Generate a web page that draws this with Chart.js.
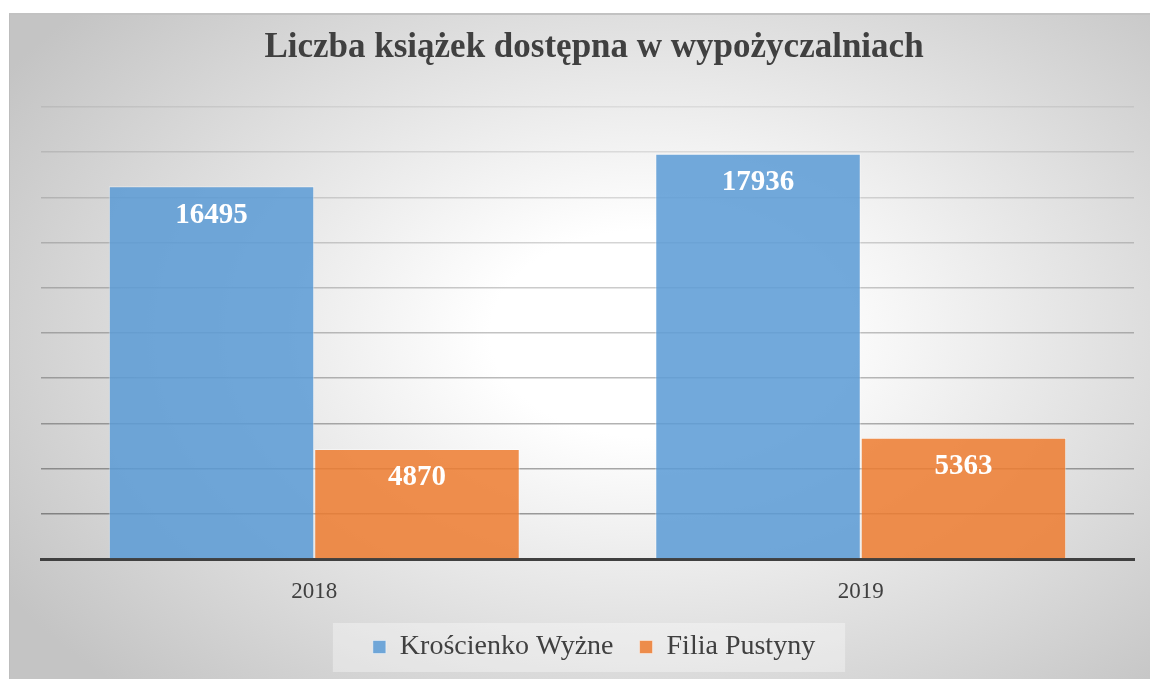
<!DOCTYPE html>
<html lang="pl">
<head>
<meta charset="utf-8">
<title>Liczba książek dostępna w wypożyczalniach</title>
<script src="https://cdn.jsdelivr.net/npm/chart.js@4.4.1/dist/chart.umd.min.js"></script>
<style>
    html, body { margin: 0; padding: 0; background: #ffffff; overflow: hidden; }
    #chart-box {
        position: absolute;
        left: 9px;
        top: 13px;
        width: 1141px;
        height: 666px;
        box-sizing: border-box;
        border-left: 1px solid #bdbdbd;
        border-top: 2px solid #c2c2c2;
        background: radial-gradient(ellipse 720px 470px at 56% 48%, #ffffff 0%, #ffffff 22%, #c4c4c4 105%);
    }
    #chart-box canvas { position: absolute; left: 0; top: 0; }
</style>
</head>
<body>
<div id="chart-box">
    <canvas id="books-chart" width="1141" height="666"></canvas>
</div>
<script>
// --- DATA ---
const years = ['2018', '2019'];
const kroscienkoValues = [16495, 17936];
const pustynyValues = [4870, 5363];
const seriesNames = ['Krościenko Wyżne', 'Filia Pustyny'];

const FONT = "'Liberation Serif', 'Times New Roman', serif";
const TEXT_COLOR = '#404040';

// --- PLUGINS ---

// Value labels inside the top of each bar (white, bold)
const barValueLabels = {
    id: 'barValueLabels',
    afterDatasetsDraw(chart) {
        const ctx = chart.ctx;
        ctx.save();
        ctx.font = `bold 29px ${FONT}`;
        ctx.fillStyle = '#ffffff';
        ctx.textAlign = 'center';
        ctx.textBaseline = 'middle';
        chart.data.datasets.forEach((ds, i) => {
            chart.getDatasetMeta(i).data.forEach((bar, j) => {
                ctx.fillText(String(ds.data[j]), bar.x, bar.y + 29);
            });
        });
        ctx.restore();
    }
};

// Light panel behind the legend entries
const legendPanel = {
    id: 'legendPanel',
    beforeDraw(chart) {
        const legend = chart.legend;
        if (!legend || !legend.legendHitBoxes || !legend.legendHitBoxes.length) return;
        const boxes = legend.legendHitBoxes;
        const left = Math.min(...boxes.map(b => b.left)) - 40;
        const right = Math.max(...boxes.map(b => b.left + b.width)) + 30;
        const mid = boxes[0].top + boxes[0].height / 2;
        const ctx = chart.ctx;
        ctx.save();
        ctx.fillStyle = 'rgba(255,255,255,0.35)';
        ctx.fillRect(left, mid - 24, right - left, 49);
        ctx.restore();
    }
};

// --- CHART ---
function renderBooksChart() {
    const ctx = document.getElementById('books-chart').getContext('2d');

    return new Chart(ctx, {
        type: 'bar',
        data: {
            labels: years,
            datasets: [{
                label: seriesNames[0],
                data: kroscienkoValues,
                backgroundColor: 'rgba(91,155,213,0.86)',
                borderColor: 'rgba(255,255,255,0.45)',
                borderWidth: 1
            }, {
                label: seriesNames[1],
                data: pustynyValues,
                backgroundColor: 'rgba(237,125,49,0.86)',
                borderColor: 'rgba(255,255,255,0.45)',
                borderWidth: 1
            }]
        },
        options: {
            responsive: false,
            animation: false,
            devicePixelRatio: 1,
            categoryPercentage: 0.752,
            barPercentage: 1.0,
            layout: { padding: { left: 31, right: 4, top: 0, bottom: 10 } },
            scales: {
                x: {
                    z: 1,
                    grid: { display: false },
                    border: { display: true, color: '#404040', width: 3 },
                    ticks: {
                        color: TEXT_COLOR,
                        padding: 13,
                        font: { family: FONT, size: 23, lineHeight: 1 }
                    },
                    afterFit(scale) { scale.height = 48; }
                },
                y: {
                    position: 'right',
                    min: 0,
                    max: 20000,
                    ticks: { display: false, stepSize: 2000 },
                    border: { display: false },
                    grid: {
                        drawTicks: false,
                        lineWidth: 1.5,
                        color: (c) => {
                            const t = c.tick ? c.tick.value / 20000 : 0;
                            return `rgba(0,0,0,${(0.40 - 0.33 * t).toFixed(3)})`;
                        }
                    },
                    afterFit(scale) { scale.width = 13; }
                }
            },
            plugins: {
                title: {
                    display: true,
                    text: 'Liczba książek dostępna w wypożyczalniach',
                    color: TEXT_COLOR,
                    font: { family: FONT, size: 35, weight: 'bold' },
                    padding: { top: 12, bottom: 38 }
                },
                legend: {
                    position: 'bottom',
                    labels: {
                        color: TEXT_COLOR,
                        boxWidth: 13,
                        boxHeight: 13,
                        padding: 26,
                        font: { family: FONT, size: 28 }
                    }
                },
                tooltip: { enabled: false }
            }
        },
        plugins: [legendPanel, barValueLabels]
    });
}

// --- INITIALIZATION ---
renderBooksChart();
</script>
</body>
</html>
